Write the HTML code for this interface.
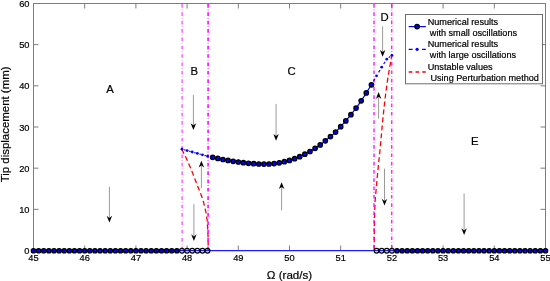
<!DOCTYPE html>
<html><head><meta charset="utf-8"><title>Tip displacement chart</title>
<style>html,body{margin:0;padding:0;background:#fff;overflow:hidden}body{width:550px;height:281px;position:relative}</style></head>
<body>
<svg width="550" height="281" viewBox="0 0 550 281" style="position:absolute;left:0;top:0">
<rect x="0" y="0" width="550" height="281" fill="#fff"/>
<g fill="#7d7d7d">
<rect x="33" y="3" width="513" height="1"/>
<rect x="33" y="250" width="513" height="1"/>
<rect x="33" y="3" width="1" height="248"/>
<rect x="545" y="3" width="1" height="248"/>
</g>
<g stroke="#7d7d7d" stroke-width="1">
<line x1="84.70" y1="250" x2="84.70" y2="245.5"/>
<line x1="84.70" y1="4" x2="84.70" y2="8.5"/>
<line x1="135.90" y1="250" x2="135.90" y2="245.5"/>
<line x1="135.90" y1="4" x2="135.90" y2="8.5"/>
<line x1="187.10" y1="250" x2="187.10" y2="245.5"/>
<line x1="187.10" y1="4" x2="187.10" y2="8.5"/>
<line x1="238.30" y1="250" x2="238.30" y2="245.5"/>
<line x1="238.30" y1="4" x2="238.30" y2="8.5"/>
<line x1="289.50" y1="250" x2="289.50" y2="245.5"/>
<line x1="289.50" y1="4" x2="289.50" y2="8.5"/>
<line x1="340.70" y1="250" x2="340.70" y2="245.5"/>
<line x1="340.70" y1="4" x2="340.70" y2="8.5"/>
<line x1="391.90" y1="250" x2="391.90" y2="245.5"/>
<line x1="391.90" y1="4" x2="391.90" y2="8.5"/>
<line x1="443.10" y1="250" x2="443.10" y2="245.5"/>
<line x1="443.10" y1="4" x2="443.10" y2="8.5"/>
<line x1="494.30" y1="250" x2="494.30" y2="245.5"/>
<line x1="494.30" y1="4" x2="494.30" y2="8.5"/>
<line x1="34" y1="209.33" x2="38.5" y2="209.33"/>
<line x1="545" y1="209.33" x2="540.5" y2="209.33"/>
<line x1="34" y1="168.17" x2="38.5" y2="168.17"/>
<line x1="545" y1="168.17" x2="540.5" y2="168.17"/>
<line x1="34" y1="127.00" x2="38.5" y2="127.00"/>
<line x1="545" y1="127.00" x2="540.5" y2="127.00"/>
<line x1="34" y1="85.83" x2="38.5" y2="85.83"/>
<line x1="545" y1="85.83" x2="540.5" y2="85.83"/>
<line x1="34" y1="44.67" x2="38.5" y2="44.67"/>
<line x1="545" y1="44.67" x2="540.5" y2="44.67"/>
</g>
<polyline points="181.7,149.2 186.0,157.6 191.4,169.9 196.7,183.8 199.4,190.5 202.0,197.2 203.6,202.4 206.0,212.5 207.2,220.5 208.0,234.8 208.3,250.0" fill="none" stroke="#ff0000" stroke-width="1.3" stroke-dasharray="5 3"/>
<polyline points="374.2,250.0 374.3,232.0 374.5,217.8 375.1,200.9 376.0,190.9 377.8,171.3 380.1,149.0 381.5,133.8 382.8,119.6 384.9,99.9 386.3,89.1 387.8,78.4 389.9,66.0 391.7,56.2" fill="none" stroke="#ff0000" stroke-width="1.3" stroke-dasharray="5 3"/>
<line x1="182.1" y1="4" x2="182.1" y2="250" stroke="#ff00ff" stroke-width="1.5" stroke-opacity="0.62" stroke-dasharray="3.7 4.66"/>
<line x1="182.1" y1="4" x2="182.1" y2="250" stroke="#ff00ff" stroke-width="1.5" stroke-opacity="0.37" stroke-dasharray="0.9 7.46" stroke-dashoffset="-5.5"/>
<line x1="208.1" y1="4" x2="208.1" y2="250" stroke="#ff00ff" stroke-width="1.7" stroke-opacity="0.9" stroke-dasharray="3.7 4.66"/>
<line x1="208.1" y1="4" x2="208.1" y2="250" stroke="#ff00ff" stroke-width="1.7" stroke-opacity="0.54" stroke-dasharray="0.9 7.46" stroke-dashoffset="-5.5"/>
<line x1="374.0" y1="4" x2="374.0" y2="250" stroke="#ff00ff" stroke-width="1.5" stroke-opacity="0.85" stroke-dasharray="3.7 4.60"/>
<line x1="374.0" y1="4" x2="374.0" y2="250" stroke="#ff00ff" stroke-width="1.5" stroke-opacity="0.51" stroke-dasharray="0.9 7.40" stroke-dashoffset="-5.5"/>
<line x1="391.7" y1="4" x2="391.7" y2="250" stroke="#ff00ff" stroke-width="1.5" stroke-opacity="0.85" stroke-dasharray="3.7 4.60"/>
<line x1="391.7" y1="4" x2="391.7" y2="250" stroke="#ff00ff" stroke-width="1.5" stroke-opacity="0.51" stroke-dasharray="0.9 7.40" stroke-dashoffset="-5.5"/>
<line x1="33.5" y1="250.6" x2="545.5" y2="250.6" stroke="#1c1cff" stroke-width="1.15"/>
<line x1="184.03" y1="149.76" x2="185.46" y2="150.15" stroke="#0000ff" stroke-width="1.2"/>
<line x1="189.15" y1="151.16" x2="190.58" y2="151.55" stroke="#0000ff" stroke-width="1.2"/>
<line x1="194.27" y1="152.56" x2="195.70" y2="152.95" stroke="#0000ff" stroke-width="1.2"/>
<line x1="199.39" y1="153.96" x2="200.82" y2="154.35" stroke="#0000ff" stroke-width="1.2"/>
<line x1="204.51" y1="155.36" x2="205.94" y2="155.75" stroke="#0000ff" stroke-width="1.2"/>
<circle cx="181.98" cy="149.20" r="1.4" fill="#0000ff"/>
<circle cx="187.10" cy="150.60" r="1.4" fill="#0000ff"/>
<circle cx="192.22" cy="152.00" r="1.4" fill="#0000ff"/>
<circle cx="197.34" cy="153.40" r="1.4" fill="#0000ff"/>
<circle cx="202.46" cy="154.80" r="1.4" fill="#0000ff"/>
<circle cx="207.58" cy="156.20" r="1.4" fill="#0000ff"/>
<line x1="373.47" y1="81.20" x2="374.90" y2="78.68" stroke="#0000ff" stroke-width="1.2"/>
<line x1="378.59" y1="72.36" x2="380.02" y2="69.95" stroke="#0000ff" stroke-width="1.2"/>
<line x1="383.71" y1="64.00" x2="385.14" y2="61.76" stroke="#0000ff" stroke-width="1.2"/>
<line x1="388.83" y1="57.64" x2="390.26" y2="56.55" stroke="#0000ff" stroke-width="1.2"/>
<circle cx="371.42" cy="84.80" r="1.4" fill="#0000ff"/>
<circle cx="376.54" cy="75.80" r="1.4" fill="#0000ff"/>
<circle cx="381.66" cy="67.20" r="1.4" fill="#0000ff"/>
<circle cx="386.78" cy="59.20" r="1.4" fill="#0000ff"/>
<circle cx="391.90" cy="55.30" r="1.4" fill="#0000ff"/>
<polyline points="212.7,157.3 217.8,158.4 222.9,159.5 228.1,160.4 233.2,161.3 238.3,162.0 243.4,162.7 248.5,163.3 253.7,163.7 258.8,164.0 263.9,164.1 269.0,164.0 274.1,163.6 279.3,162.8 284.4,161.7 289.5,160.4 294.6,158.7 299.7,156.7 304.9,154.2 310.0,151.5 315.1,148.3 320.2,144.9 325.3,140.8 330.5,136.6 335.6,132.1 340.7,126.7 345.8,120.9 350.9,114.7 356.1,108.1 361.2,100.8 366.3,92.9 371.4,84.8" fill="none" stroke="#0000ff" stroke-width="1.2"/>
<g fill="#0000ff" stroke="#000" stroke-width="1.3">
<circle cx="212.70" cy="157.30" r="2.2"/>
<circle cx="217.82" cy="158.40" r="2.2"/>
<circle cx="222.94" cy="159.50" r="2.2"/>
<circle cx="228.06" cy="160.40" r="2.2"/>
<circle cx="233.18" cy="161.30" r="2.2"/>
<circle cx="238.30" cy="162.00" r="2.2"/>
<circle cx="243.42" cy="162.70" r="2.2"/>
<circle cx="248.54" cy="163.30" r="2.2"/>
<circle cx="253.66" cy="163.70" r="2.2"/>
<circle cx="258.78" cy="164.00" r="2.2"/>
<circle cx="263.90" cy="164.10" r="2.2"/>
<circle cx="269.02" cy="164.00" r="2.2"/>
<circle cx="274.14" cy="163.60" r="2.2"/>
<circle cx="279.26" cy="162.80" r="2.2"/>
<circle cx="284.38" cy="161.70" r="2.2"/>
<circle cx="289.50" cy="160.40" r="2.2"/>
<circle cx="294.62" cy="158.70" r="2.2"/>
<circle cx="299.74" cy="156.70" r="2.2"/>
<circle cx="304.86" cy="154.20" r="2.2"/>
<circle cx="309.98" cy="151.50" r="2.2"/>
<circle cx="315.10" cy="148.30" r="2.2"/>
<circle cx="320.22" cy="144.90" r="2.2"/>
<circle cx="325.34" cy="140.80" r="2.2"/>
<circle cx="330.46" cy="136.60" r="2.2"/>
<circle cx="335.58" cy="132.10" r="2.2"/>
<circle cx="340.70" cy="126.70" r="2.2"/>
<circle cx="345.82" cy="120.90" r="2.2"/>
<circle cx="350.94" cy="114.70" r="2.2"/>
<circle cx="356.06" cy="108.10" r="2.2"/>
<circle cx="361.18" cy="100.80" r="2.2"/>
<circle cx="366.30" cy="92.90" r="2.2"/>
<circle cx="371.42" cy="84.80" r="2.2"/>
</g>
<g stroke="#000" stroke-width="1.3">
<circle cx="33.50" cy="250.75" r="2.2" fill="#0000ff"/>
<circle cx="38.62" cy="250.75" r="2.2" fill="#0000ff"/>
<circle cx="43.74" cy="250.75" r="2.2" fill="#0000ff"/>
<circle cx="48.86" cy="250.75" r="2.2" fill="#0000ff"/>
<circle cx="53.98" cy="250.75" r="2.2" fill="#0000ff"/>
<circle cx="59.10" cy="250.75" r="2.2" fill="#0000ff"/>
<circle cx="64.22" cy="250.75" r="2.2" fill="#0000ff"/>
<circle cx="69.34" cy="250.75" r="2.2" fill="#0000ff"/>
<circle cx="74.46" cy="250.75" r="2.2" fill="#0000ff"/>
<circle cx="79.58" cy="250.75" r="2.2" fill="#0000ff"/>
<circle cx="84.70" cy="250.75" r="2.2" fill="#0000ff"/>
<circle cx="89.82" cy="250.75" r="2.2" fill="#0000ff"/>
<circle cx="94.94" cy="250.75" r="2.2" fill="#0000ff"/>
<circle cx="100.06" cy="250.75" r="2.2" fill="#0000ff"/>
<circle cx="105.18" cy="250.75" r="2.2" fill="#0000ff"/>
<circle cx="110.30" cy="250.75" r="2.2" fill="#0000ff"/>
<circle cx="115.42" cy="250.75" r="2.2" fill="#0000ff"/>
<circle cx="120.54" cy="250.75" r="2.2" fill="#0000ff"/>
<circle cx="125.66" cy="250.75" r="2.2" fill="#0000ff"/>
<circle cx="130.78" cy="250.75" r="2.2" fill="#0000ff"/>
<circle cx="135.90" cy="250.75" r="2.2" fill="#0000ff"/>
<circle cx="141.02" cy="250.75" r="2.2" fill="#0000ff"/>
<circle cx="146.14" cy="250.75" r="2.2" fill="#0000ff"/>
<circle cx="151.26" cy="250.75" r="2.2" fill="#0000ff"/>
<circle cx="156.38" cy="250.75" r="2.2" fill="#0000ff"/>
<circle cx="161.50" cy="250.75" r="2.2" fill="#0000ff"/>
<circle cx="166.62" cy="250.75" r="2.2" fill="#0000ff"/>
<circle cx="171.74" cy="250.75" r="2.2" fill="#0000ff"/>
<circle cx="176.86" cy="250.75" r="2.2" fill="#0000ff"/>
<circle cx="181.98" cy="250.75" r="2.35" fill="none" stroke-width="1.15"/>
<circle cx="187.10" cy="250.75" r="2.35" fill="none" stroke-width="1.15"/>
<circle cx="192.22" cy="250.75" r="2.35" fill="none" stroke-width="1.15"/>
<circle cx="197.34" cy="250.75" r="2.35" fill="none" stroke-width="1.15"/>
<circle cx="202.46" cy="250.75" r="2.35" fill="none" stroke-width="1.15"/>
<circle cx="207.58" cy="250.75" r="2.35" fill="none" stroke-width="1.15"/>
<circle cx="376.54" cy="250.75" r="2.35" fill="none" stroke-width="1.15"/>
<circle cx="381.66" cy="250.75" r="2.35" fill="none" stroke-width="1.15"/>
<circle cx="386.78" cy="250.75" r="2.35" fill="none" stroke-width="1.15"/>
<circle cx="391.90" cy="250.75" r="2.35" fill="none" stroke-width="1.15"/>
<circle cx="397.02" cy="250.75" r="2.2" fill="#0000ff"/>
<circle cx="402.14" cy="250.75" r="2.2" fill="#0000ff"/>
<circle cx="407.26" cy="250.75" r="2.2" fill="#0000ff"/>
<circle cx="412.38" cy="250.75" r="2.2" fill="#0000ff"/>
<circle cx="417.50" cy="250.75" r="2.2" fill="#0000ff"/>
<circle cx="422.62" cy="250.75" r="2.2" fill="#0000ff"/>
<circle cx="427.74" cy="250.75" r="2.2" fill="#0000ff"/>
<circle cx="432.86" cy="250.75" r="2.2" fill="#0000ff"/>
<circle cx="437.98" cy="250.75" r="2.2" fill="#0000ff"/>
<circle cx="443.10" cy="250.75" r="2.2" fill="#0000ff"/>
<circle cx="448.22" cy="250.75" r="2.2" fill="#0000ff"/>
<circle cx="453.34" cy="250.75" r="2.2" fill="#0000ff"/>
<circle cx="458.46" cy="250.75" r="2.2" fill="#0000ff"/>
<circle cx="463.58" cy="250.75" r="2.2" fill="#0000ff"/>
<circle cx="468.70" cy="250.75" r="2.2" fill="#0000ff"/>
<circle cx="473.82" cy="250.75" r="2.2" fill="#0000ff"/>
<circle cx="478.94" cy="250.75" r="2.2" fill="#0000ff"/>
<circle cx="484.06" cy="250.75" r="2.2" fill="#0000ff"/>
<circle cx="489.18" cy="250.75" r="2.2" fill="#0000ff"/>
<circle cx="494.30" cy="250.75" r="2.2" fill="#0000ff"/>
<circle cx="499.42" cy="250.75" r="2.2" fill="#0000ff"/>
<circle cx="504.54" cy="250.75" r="2.2" fill="#0000ff"/>
<circle cx="509.66" cy="250.75" r="2.2" fill="#0000ff"/>
<circle cx="514.78" cy="250.75" r="2.2" fill="#0000ff"/>
<circle cx="519.90" cy="250.75" r="2.2" fill="#0000ff"/>
<circle cx="525.02" cy="250.75" r="2.2" fill="#0000ff"/>
<circle cx="530.14" cy="250.75" r="2.2" fill="#0000ff"/>
<circle cx="535.26" cy="250.75" r="2.2" fill="#0000ff"/>
<circle cx="540.38" cy="250.75" r="2.2" fill="#0000ff"/>
<circle cx="545.50" cy="250.75" r="2.2" fill="#0000ff"/>
</g>
<line x1="109.4" y1="186.7" x2="109.4" y2="217.9" stroke="#000" stroke-width="0.4"/>
<path d="M109.4 222.6 L106.65 215.79999999999998 L109.4 217.9 L112.15 215.79999999999998 Z" fill="#000"/>
<line x1="193.4" y1="94.9" x2="193.4" y2="125.3" stroke="#000" stroke-width="0.4"/>
<path d="M193.4 130.0 L190.65 123.2 L193.4 125.3 L196.15 123.2 Z" fill="#000"/>
<line x1="201.4" y1="188" x2="201.4" y2="165.49999999999997" stroke="#000" stroke-width="0.4"/>
<path d="M201.4 160.79999999999998 L198.65 167.6 L201.4 165.49999999999997 L204.15 167.6 Z" fill="#000"/>
<line x1="193.9" y1="204.2" x2="193.9" y2="236.4" stroke="#000" stroke-width="0.4"/>
<path d="M193.9 241.1 L191.15 234.29999999999998 L193.9 236.4 L196.65 234.29999999999998 Z" fill="#000"/>
<line x1="276.05" y1="103.9" x2="276.05" y2="136.0" stroke="#000" stroke-width="0.4"/>
<path d="M276.05 140.7 L273.3 133.89999999999998 L276.05 136.0 L278.8 133.89999999999998 Z" fill="#000"/>
<line x1="281.6" y1="210.5" x2="281.6" y2="186.89999999999998" stroke="#000" stroke-width="0.4"/>
<path d="M281.6 182.2 L278.85 189.0 L281.6 186.89999999999998 L284.35 189.0 Z" fill="#000"/>
<line x1="382.6" y1="26.3" x2="382.6" y2="52.0" stroke="#000" stroke-width="0.4"/>
<path d="M382.6 56.7 L379.85 49.900000000000006 L382.6 52.0 L385.35 49.900000000000006 Z" fill="#000"/>
<line x1="378.6" y1="118.7" x2="378.6" y2="96.8" stroke="#000" stroke-width="0.4"/>
<path d="M378.6 92.1 L375.85 98.89999999999999 L378.6 96.8 L381.35 98.89999999999999 Z" fill="#000"/>
<line x1="384.5" y1="168.7" x2="384.5" y2="200.9" stroke="#000" stroke-width="0.4"/>
<path d="M384.5 205.6 L381.75 198.79999999999998 L384.5 200.9 L387.25 198.79999999999998 Z" fill="#000"/>
<line x1="464.1" y1="193.5" x2="464.1" y2="230.4" stroke="#000" stroke-width="0.4"/>
<path d="M464.1 235.1 L461.35 228.29999999999998 L464.1 230.4 L466.85 228.29999999999998 Z" fill="#000"/>
<rect x="405.5" y="14.5" width="137" height="69.3" fill="#fff" stroke="#6e6e6e" stroke-width="1"/>
<line x1="408.7" y1="26.6" x2="425.8" y2="26.6" stroke="#0000ff" stroke-width="1.2"/>
<circle cx="417.1" cy="26.6" r="2.2" fill="#0000ff" stroke="#000" stroke-width="1.3"/>
<line x1="408.7" y1="49.3" x2="425.8" y2="49.3" stroke="#0000ff" stroke-width="1.3" stroke-dasharray="3.9 9.5"/>
<circle cx="417.1" cy="49.3" r="1.6" fill="#0000ff"/>
<line x1="408.7" y1="72" x2="425.8" y2="72" stroke="#ff0000" stroke-width="1.35" stroke-dasharray="3.7 3.1"/>
<g font-family="'Liberation Sans', sans-serif" fill="#000" stroke="#000" stroke-width="0.2">
<g font-size="9.15px">
<text x="427.7" y="24.5">Numerical results</text>
<text x="429.8" y="35.6">with small oscillations</text>
<text x="427.7" y="47.2">Numerical results</text>
<text x="429.8" y="57.5">with large oscillations</text>
<text x="427.7" y="70.2">Unstable values</text>
<text x="430.4" y="80.6">Using Perturbation method</text>
</g>
<g font-size="9.3px" text-anchor="middle">
<text x="33.50" y="261.0">45</text>
<text x="84.70" y="261.0">46</text>
<text x="135.90" y="261.0">47</text>
<text x="187.10" y="261.0">48</text>
<text x="238.30" y="261.0">49</text>
<text x="289.50" y="261.0">50</text>
<text x="340.70" y="261.0">51</text>
<text x="391.90" y="261.0">52</text>
<text x="443.10" y="261.0">53</text>
<text x="494.30" y="261.0">54</text>
<text x="545.50" y="261.0">55</text>
</g>
<g font-size="9.3px" text-anchor="end">
<text x="29.5" y="254.00">0</text>
<text x="29.5" y="212.83">10</text>
<text x="29.5" y="171.67">20</text>
<text x="29.5" y="130.50">30</text>
<text x="29.5" y="89.33">40</text>
<text x="29.5" y="48.17">50</text>
<text x="29.5" y="7.00">60</text>
</g>
<g font-size="11.3px" text-anchor="middle" stroke-width="0.2">
<text x="110.1" y="93">A</text>
<text x="194.2" y="74.9">B</text>
<text x="291.5" y="74.5">C</text>
<text x="384.7" y="21.4">D</text>
<text x="474.8" y="144.9">E</text>
</g>
<text x="289.5" y="279.0" font-size="11.6px" text-anchor="middle">Ω (rad/s)</text>
<text transform="translate(8.5,124.4) rotate(-90)" font-size="11.45px" text-anchor="middle">Tip displacement (mm)</text>
</g>
</svg>
</body></html>
